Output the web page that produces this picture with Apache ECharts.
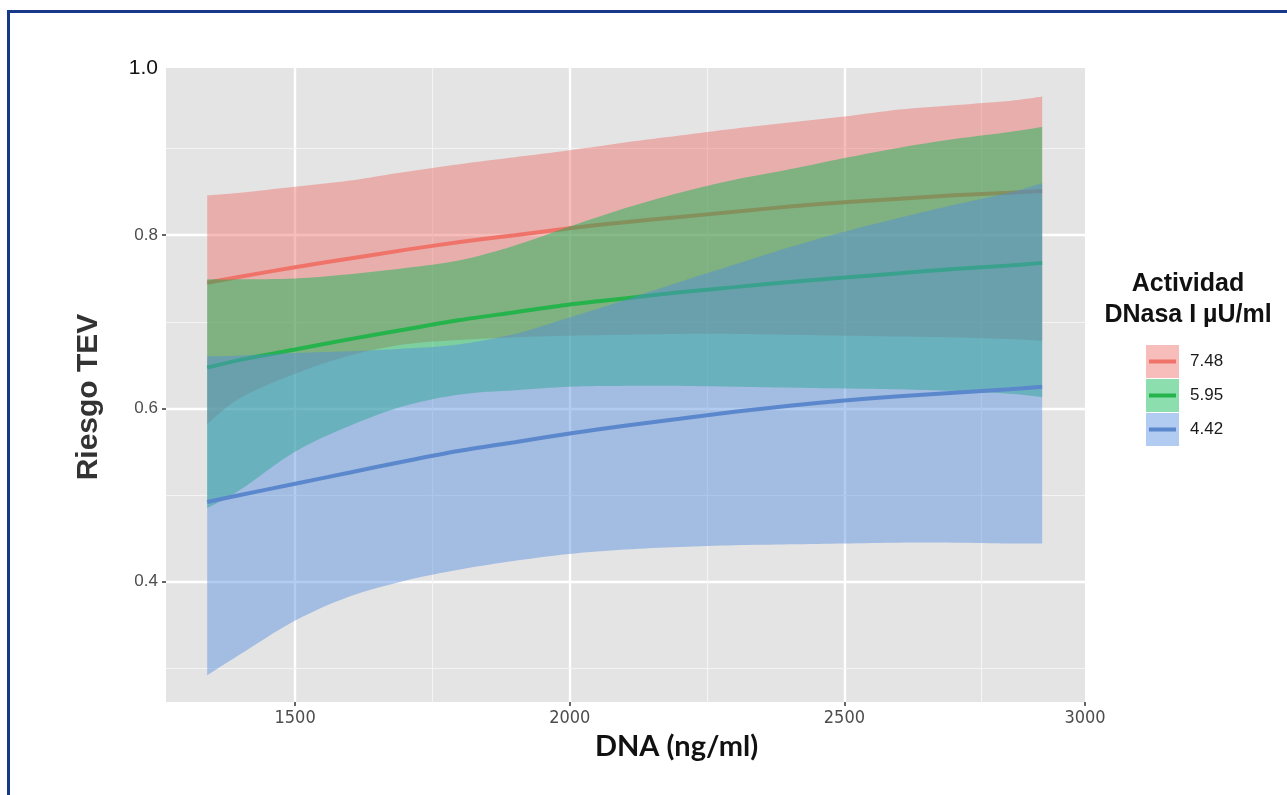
<!DOCTYPE html>
<html>
<head>
<meta charset="utf-8">
<script src="https://cdn.jsdelivr.net/npm/echarts@6/dist/echarts.min.js"></script>
<style>
  html, body { margin: 0; padding: 0; background: #ffffff; }
  #chart { width: 1287px; height: 795px; }
  #frame {
    position: absolute; left: 7px; top: 10px; width: 1300px; height: 800px;
    border-left: 3px solid #17398a; border-top: 3px solid #17398a;
    pointer-events: none;
  }
</style>
</head>
<body>
<div id="chart"></div>
<div id="frame"></div>
<script>
// DNA concentration (ng/ml) at which the fitted curves are evaluated
const dna = [1340, 1400, 1500, 1600, 1700, 1800, 1900, 2000, 2100, 2200, 2300, 2400, 2500, 2600, 2700, 2800, 2860];

// DNasa I activity groups (legend order)
const groups = ['7.48', '5.95', '4.42'];

// Group 7.48: fitted risk and confidence band
const fit748   = [0.745, 0.752, 0.763, 0.773, 0.783, 0.792, 0.800, 0.808, 0.815, 0.821, 0.827, 0.833, 0.838, 0.842, 0.846, 0.849, 0.851];
const lower748 = [0.582, 0.612, 0.640, 0.661, 0.674, 0.679, 0.682, 0.684, 0.685, 0.686, 0.686, 0.685, 0.684, 0.683, 0.682, 0.680, 0.678];
const upper748 = [0.846, 0.849, 0.856, 0.863, 0.873, 0.882, 0.890, 0.898, 0.907, 0.915, 0.923, 0.930, 0.937, 0.945, 0.950, 0.955, 0.960];

// Group 5.95
const fit595   = [0.647, 0.656, 0.668, 0.680, 0.691, 0.702, 0.711, 0.720, 0.727, 0.734, 0.740, 0.746, 0.751, 0.756, 0.761, 0.765, 0.768];
const lower595 = [0.485, 0.506, 0.550, 0.580, 0.603, 0.616, 0.621, 0.625, 0.626, 0.626, 0.625, 0.624, 0.623, 0.622, 0.620, 0.617, 0.613];
const upper595 = [0.749, 0.749, 0.750, 0.755, 0.762, 0.771, 0.788, 0.810, 0.831, 0.849, 0.864, 0.876, 0.889, 0.901, 0.911, 0.919, 0.925];

// Group 4.42
const fit442   = [0.492, 0.500, 0.513, 0.526, 0.539, 0.551, 0.561, 0.571, 0.580, 0.588, 0.596, 0.603, 0.609, 0.614, 0.618, 0.622, 0.625];
const lower442 = [0.292, 0.316, 0.355, 0.383, 0.401, 0.414, 0.424, 0.432, 0.437, 0.440, 0.442, 0.443, 0.444, 0.445, 0.445, 0.444, 0.444];
const upper442 = [0.660, 0.661, 0.664, 0.666, 0.669, 0.674, 0.686, 0.705, 0.725, 0.746, 0.766, 0.786, 0.804, 0.820, 0.835, 0.849, 0.860];

// Axis ranges of the panel
const xMin = 1265, xMax = 2938;
const yMin = 0.261, yMax = 0.993;

// Tick positions and their labels (the last x label sits on the right edge of the panel)
const xTickAt = [1500, 2000, 2500, xMax];
const xTickLabels = ['1500', '2000', '2500', '3000'];
const yTickAt = [0.4, 0.6, 0.8];
const yLabelAt = [0.4, 0.6, 0.8, yMax];
const yTickLabels = ['0.4', '0.6', '0.8', '1.0'];

// Grid lines
const xMajor = [1500, 2000, 2500];
const xMinor = [1750, 2250, 2750];
const yMajor = [0.4, 0.6, 0.8];
const yMinor = [0.3, 0.5, 0.7, 0.9];

const lineColors = ['#F0736A', '#25B34B', '#5B88CC'];
const fillColors = ['rgba(236,109,105,0.45)', 'rgba(0,182,77,0.45)', 'rgba(82,140,225,0.45)'];

const fits = [fit748, fit595, fit442];
const lowers = [lower748, lower595, lower442];
const uppers = [upper748, upper595, upper442];

const FONT = "'Liberation Sans', Arial, sans-serif";

function pairs(values) {
  return dna.map((x, i) => [x, values[i]]);
}

// Smooth outline (Catmull-Rom) through pixel points, returned as a dense list of pixel points
function smoothOutline(pts) {
  const out = [pts[0]];
  const n = pts.length, steps = 8;
  for (let i = 0; i < n - 1; i++) {
    const p0 = pts[Math.max(i - 1, 0)], p1 = pts[i], p2 = pts[i + 1], p3 = pts[Math.min(i + 2, n - 1)];
    for (let s = 1; s <= steps; s++) {
      const t = s / steps, t2 = t * t, t3 = t2 * t;
      const f = (a, b, c, d) => 0.5 * (2 * b + (-a + c) * t + (2 * a - 5 * b + 4 * c - d) * t2 + (-a + 3 * b - 3 * c + d) * t3);
      out.push([f(p0[0], p1[0], p2[0], p3[0]), f(p0[1], p1[1], p2[1], p3[1])]);
    }
  }
  return out;
}

const series = [];

// panel grid lines, drawn beneath the bands
const gridMarks = [];
xMajor.forEach(v => gridMarks.push({ xAxis: v, lineStyle: { color: '#ffffff', width: 2.4, type: 'solid' } }));
yMajor.forEach(v => gridMarks.push({ yAxis: v, lineStyle: { color: '#ffffff', width: 2.4, type: 'solid' } }));
xMinor.forEach(v => gridMarks.push({ xAxis: v, lineStyle: { color: '#f4f4f4', width: 1.2, type: 'solid' } }));
yMinor.forEach(v => gridMarks.push({ yAxis: v, lineStyle: { color: '#f4f4f4', width: 1.2, type: 'solid' } }));
series.push({
  type: 'line', name: 'grid', data: [[xMajor[0], yMajor[0]]], symbol: 'none',
  lineStyle: { opacity: 0 }, z: 1, silent: true, animation: false,
  markLine: { z: 1, silent: true, symbol: 'none', label: { show: false }, animation: false, data: gridMarks }
});

groups.forEach((g, k) => {
  const z = 10 + k * 2;
  const lo = lowers[k], hi = uppers[k];
  // confidence band: upper edge left to right, lower edge back again
  series.push({
    type: 'custom', name: g, z, silent: true, animation: false,
    data: dna.map((x, i) => [x, lo[i], hi[i]]),
    encode: { x: 0, y: [1, 2] },
    renderItem: (params, api) => {
      if (params.dataIndex !== 0) return null;
      const top = smoothOutline(dna.map((x, i) => api.coord([x, hi[i]])));
      const bottom = smoothOutline(dna.map((x, i) => api.coord([x, lo[i]]))).reverse();
      return {
        type: 'polygon',
        shape: { points: top.concat(bottom) },
        style: { fill: fillColors[k], stroke: null }
      };
    }
  });
  // fitted risk curve
  series.push({
    type: 'line', name: g, data: pairs(fits[k]), symbol: 'none', smooth: 0.3,
    lineStyle: { color: lineColors[k], width: 4 }, z: z + 1, silent: true,
    animation: false, emphasis: { disabled: true }
  });
});

const chart = echarts.init(document.getElementById('chart'), null, { renderer: 'canvas' });

chart.setOption({
  animation: false,
  backgroundColor: 'transparent',
  grid: {
    left: 166, top: 68, width: 919, height: 634,
    show: true, backgroundColor: '#E4E4E4', borderWidth: 0
  },
  xAxis: {
    type: 'value', min: xMin, max: xMax,
    axisLine: { show: false },
    splitLine: { show: false },
    axisTick: { show: true, customValues: xTickAt, length: 4, lineStyle: { color: '#333333', width: 1.5 } },
    axisLabel: {
      customValues: xTickAt, margin: 7,
      color: '#4D4D4D', fontSize: 18,
      fontFamily: "'Liberation Sans Narrow', 'DejaVu Sans Condensed', sans-serif",
      formatter: v => xTickLabels[xTickAt.indexOf(v)]
    },
    name: 'DNA (ng/ml)', nameLocation: 'middle', nameGap: 27,
    nameTextStyle: {
      fontFamily: "Lato, 'Liberation Sans', sans-serif", fontWeight: 'bold',
      fontSize: 29, color: '#111111', padding: [0, 0, 0, 102]
    }
  },
  yAxis: {
    type: 'value', min: yMin, max: yMax,
    axisLine: { show: false },
    splitLine: { show: false },
    axisTick: { show: true, customValues: yTickAt, length: 4, lineStyle: { color: '#333333', width: 1.5 } },
    axisLabel: {
      customValues: yLabelAt, margin: 8,
      color: '#4D4D4D', fontSize: 17, fontFamily: FONT,
      formatter: v => {
        const t = yTickLabels[yLabelAt.indexOf(v)];
        return v === yMax ? '{top|' + t + '}' : t;
      },
      rich: { top: { fontSize: 21, color: '#111111', fontFamily: FONT } }
    },
    name: 'Riesgo TEV', nameLocation: 'middle', nameGap: 62,
    nameTextStyle: {
      fontFamily: FONT, fontWeight: 'bold', fontSize: 30, color: '#333333',
      padding: [0, 24, 0, 0]
    }
  },
  legend: [
    {
      // key backgrounds: band colour
      orient: 'vertical', left: 1146, top: 345, padding: 0,
      itemWidth: 33, itemHeight: 33, itemGap: 1,
      selectedMode: false, formatter: () => '',
      data: groups.map((g, k) => ({
        name: g, icon: 'rect',
        itemStyle: { color: fillColors[k], borderWidth: 0, opacity: 1 }
      }))
    },
    {
      // key strokes and labels
      orient: 'vertical', left: 1146, top: 345, padding: 0,
      itemWidth: 33, itemHeight: 33, itemGap: 1,
      selectedMode: false,
      textStyle: { fontSize: 17, color: '#1a1a1a', fontFamily: FONT, padding: [0, 0, 0, 6] },
      data: groups.map((g, k) => ({
        name: g,
        icon: 'path://M0,0L0.01,0M3,14.5h27v4h-27zM33,33L33.01,33',
        itemStyle: { color: lineColors[k], borderWidth: 0, opacity: 1 }
      }))
    }
  ],
  graphic: [
    {
      type: 'text', x: 1188, y: 269, silent: true,
      style: {
        text: 'Actividad\nDNasa I µU/ml',
        align: 'center', verticalAlign: 'top',
        font: "bold 25px 'Liberation Sans', Arial, sans-serif",
        lineHeight: 31, fill: '#111111'
      }
    }
  ],
  series
});
</script>
</body>
</html>
